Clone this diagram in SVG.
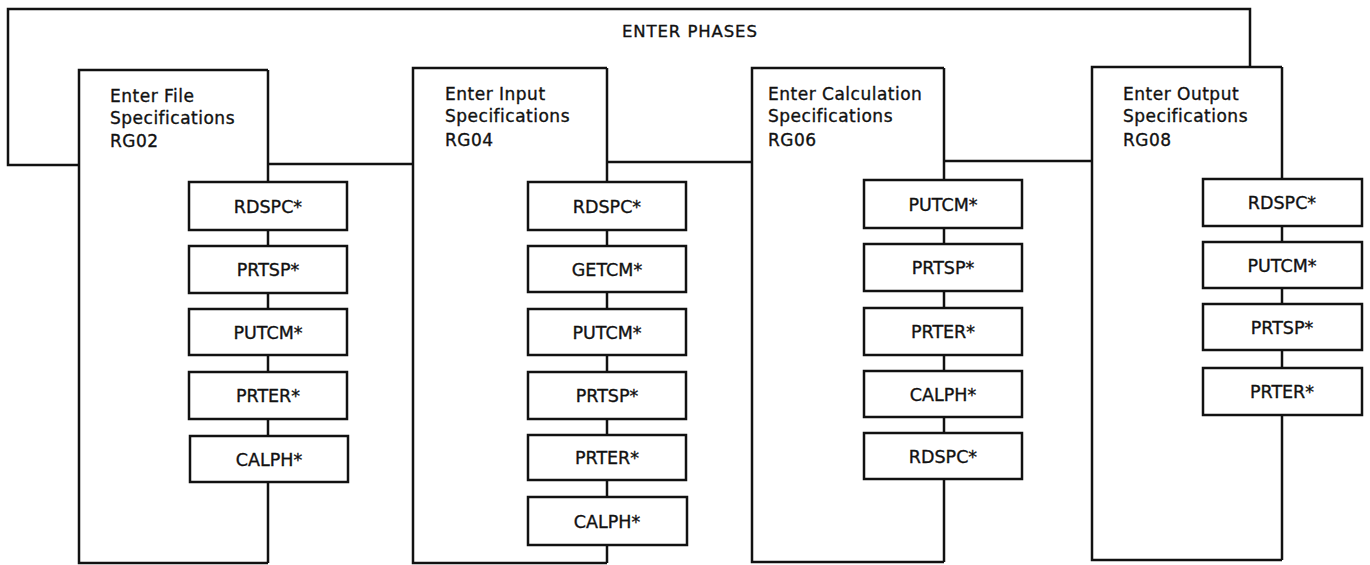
<svg xmlns="http://www.w3.org/2000/svg" width="1370" height="565" viewBox="0 0 1370 565">
  <style>
    .ln { fill: none; stroke: #111; stroke-width: 2.5; stroke-linejoin: miter; }
    .phase { fill: none; stroke: #111; stroke-width: 2.5; }
    .mod { fill: #fff; stroke: #111; stroke-width: 2.5; }
    text { fill: #111; stroke: #111; stroke-width: 0.35; font-family: "DejaVu Sans", "Liberation Sans", sans-serif; }
    .hd { font-size: 17px; letter-spacing: 0.5px; }
    .lb { font-size: 17.5px; text-anchor: middle; }
    .title { font-size: 16.5px; letter-spacing: 0.9px; }
  </style>
  <rect width="1370" height="565" fill="#fff"/>

  <!-- outer frame and links between phases -->
  <g id="connectors">
    <path class="ln" d="M79,165 H8 V9 H1250 V67"/>
    <path class="ln" d="M268,164 H413"/>
    <path class="ln" d="M607,162 H752"/>
    <path class="ln" d="M944,161 H1092"/>
    <!-- spines through the module stacks -->
    <path class="ln" d="M268,70 V563"/>
    <path class="ln" d="M607,68 V563"/>
    <path class="ln" d="M944,68 V562"/>
    <path class="ln" d="M1282,67 V560"/>
  </g>

  <text id="title" class="title" x="622" y="37">ENTER PHASES</text>

  <g id="rg02">
    <path class="phase" d="M268,70 H79 V563 H268"/>
    <text class="hd" x="110" y="102">Enter File</text>
    <text class="hd" x="110" y="124">Specifications</text>
    <text class="hd" x="110" y="147">RG02</text>
    <g id="rg02-mods">
      <rect class="mod" x="189" y="182" width="158" height="48"/>
      <text class="lb" x="268" y="213">RDSPC*</text>
      <rect class="mod" x="189" y="246" width="158" height="47"/>
      <text class="lb" x="268" y="276">PRTSP*</text>
      <rect class="mod" x="189" y="309" width="158" height="46"/>
      <text class="lb" x="268" y="339">PUTCM*</text>
      <rect class="mod" x="189" y="372" width="158" height="47"/>
      <text class="lb" x="268" y="402">PRTER*</text>
      <rect class="mod" x="190" y="436" width="158" height="46"/>
      <text class="lb" x="269" y="466">CALPH*</text>
    </g>
  </g>

  <g id="rg04">
    <path class="phase" d="M607,68 H413 V563 H607"/>
    <text class="hd" x="445" y="100">Enter Input</text>
    <text class="hd" x="445" y="122">Specifications</text>
    <text class="hd" x="445" y="146">RG04</text>
    <g id="rg04-mods">
      <rect class="mod" x="528" y="182" width="158" height="48"/>
      <text class="lb" x="607" y="213">RDSPC*</text>
      <rect class="mod" x="528" y="246" width="158" height="46"/>
      <text class="lb" x="607" y="276">GETCM*</text>
      <rect class="mod" x="528" y="309" width="158" height="46"/>
      <text class="lb" x="607" y="339">PUTCM*</text>
      <rect class="mod" x="528" y="372" width="158" height="47"/>
      <text class="lb" x="607" y="402">PRTSP*</text>
      <rect class="mod" x="528" y="435" width="158" height="45"/>
      <text class="lb" x="607" y="464">PRTER*</text>
      <rect class="mod" x="528" y="497" width="159" height="48"/>
      <text class="lb" x="607" y="528">CALPH*</text>
    </g>
  </g>

  <g id="rg06">
    <path class="phase" d="M944,68 H752 V562 H944"/>
    <text class="hd" x="768" y="100">Enter Calculation</text>
    <text class="hd" x="768" y="122">Specifications</text>
    <text class="hd" x="768" y="146">RG06</text>
    <g id="rg06-mods">
      <rect class="mod" x="864" y="180" width="158" height="48"/>
      <text class="lb" x="943" y="211">PUTCM*</text>
      <rect class="mod" x="864" y="244" width="158" height="47"/>
      <text class="lb" x="943" y="274">PRTSP*</text>
      <rect class="mod" x="864" y="308" width="158" height="47"/>
      <text class="lb" x="943" y="338">PRTER*</text>
      <rect class="mod" x="864" y="371" width="158" height="46"/>
      <text class="lb" x="943" y="401">CALPH*</text>
      <rect class="mod" x="864" y="433" width="158" height="46"/>
      <text class="lb" x="943" y="463">RDSPC*</text>
    </g>
  </g>

  <g id="rg08">
    <path class="phase" d="M1282,67 H1092 V560 H1282"/>
    <text class="hd" x="1123" y="100">Enter Output</text>
    <text class="hd" x="1123" y="122">Specifications</text>
    <text class="hd" x="1123" y="146">RG08</text>
    <g id="rg08-mods">
      <rect class="mod" x="1203" y="179" width="159" height="47"/>
      <text class="lb" x="1282" y="209">RDSPC*</text>
      <rect class="mod" x="1203" y="242" width="159" height="46"/>
      <text class="lb" x="1282" y="272">PUTCM*</text>
      <rect class="mod" x="1203" y="304" width="159" height="46"/>
      <text class="lb" x="1282" y="334">PRTSP*</text>
      <rect class="mod" x="1203" y="368" width="159" height="47"/>
      <text class="lb" x="1282" y="398">PRTER*</text>
    </g>
  </g>
</svg>
